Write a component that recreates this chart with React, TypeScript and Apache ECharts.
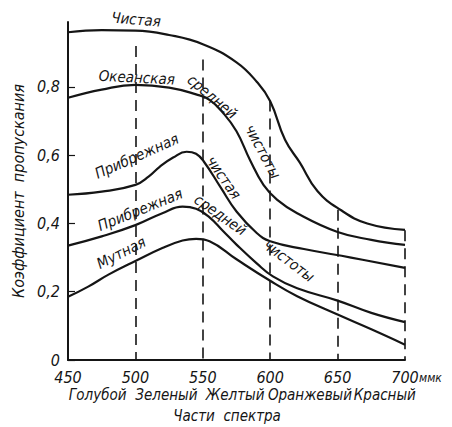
import React, { useEffect, useRef } from "react";
import * as echarts from "echarts";

// wavelength (ммк) vs transmission coefficient
const clean: number[][] = [
  [450, 0.96], [475, 0.966], [500, 0.965], [525, 0.952], [550, 0.925], [575, 0.872],
  [590, 0.815], [600, 0.758], [611, 0.645], [622, 0.578], [635, 0.495], [652, 0.44],
  [672, 0.40], [700, 0.381],
];
const oceanMedium: number[][] = [
  [450, 0.768], [475, 0.792], [500, 0.806], [525, 0.798], [545, 0.778], [555, 0.762],
  [565, 0.724], [575, 0.67], [585, 0.586], [595, 0.513], [605, 0.47], [620, 0.43],
  [650, 0.375], [675, 0.352], [700, 0.337],
];
const coastalClean: number[][] = [
  [450, 0.484], [475, 0.493], [500, 0.513], [510, 0.538], [518, 0.566], [528, 0.593],
  [538, 0.61], [545, 0.604], [551, 0.58], [563, 0.507], [575, 0.435], [590, 0.372],
  [600, 0.348], [625, 0.325], [660, 0.30], [700, 0.27],
];
const coastalMedium: number[][] = [
  [450, 0.335], [475, 0.362], [500, 0.395], [520, 0.43], [535, 0.449], [545, 0.443],
  [555, 0.418], [565, 0.378], [575, 0.338], [590, 0.283], [602, 0.245], [620, 0.21],
  [650, 0.174], [675, 0.138], [700, 0.111],
];
const turbid: number[][] = [
  [450, 0.185], [465, 0.215], [480, 0.25], [500, 0.29], [520, 0.328], [535, 0.35],
  [545, 0.355], [555, 0.348], [575, 0.295], [600, 0.232], [620, 0.187], [650, 0.133],
  [675, 0.09], [700, 0.045],
];

// vertical dashed guides: x and top value
const guideX = [500, 550, 600, 650, 700];
const guideTop = [0.92, 0.88, 0.76, 0.44, 0.38];

// curve annotations: text, x (ммк), y, rotation (deg)
const curveLabels: [string, number, number, number][] = [
  ["Чистая", 500.5, 0.997, -5],
  ["Океанская", 501, 0.827, -3],
  ["средней", 557, 0.771, -40],
  ["чистоты", 594.5, 0.61, -62],
  ["Прибрежная", 501, 0.597, 24],
  ["чистая", 565.5, 0.534, -55],
  ["Прибрежная", 503.5, 0.44, 22],
  ["средней", 563, 0.425, -35],
  ["чистоты", 614, 0.29, -37],
  ["Мутная", 489.5, 0.314, 27],
];

// spectrum parts under the axis: name, centre (ммк)
const spectrumParts: [string, number][] = [
  ["Голубой", 472],
  ["Зеленый", 523],
  ["Желтый", 574],
  ["Оранжевый", 629.5],
  ["Красный", 685],
];

const FONT = "DejaVu Sans Condensed, Liberation Sans Narrow, DejaVu Sans, sans-serif";
const INK = "#151515";

export default function App() {
  const ref = useRef<HTMLDivElement>(null);
  useEffect(() => {
    document.body.style.margin = "0";
    const chart = echarts.init(ref.current!, null, { renderer: "svg" });
    const mk = (data: number[][]) => ({
      type: "line",
      data,
      smooth: 0.45,
      symbol: "none",
      lineStyle: { color: INK, width: 2.2 },
      z: 3,
    });
    chart.setOption({
      animation: false,
      backgroundColor: "#fff",
      grid: { left: 68, right: 47, top: 22, bottom: 67 },
      xAxis: {
        type: "value",
        min: 450,
        max: 700,
        interval: 50,
        axisLine: { show: true, lineStyle: { color: INK, width: 2 } },
        axisTick: { show: false },
        splitLine: { show: false },
        axisLabel: {
          color: INK,
          fontFamily: FONT,
          fontStyle: "italic",
          fontSize: 16,
          margin: 9,
        },
      },
      yAxis: {
        type: "value",
        min: 0,
        max: 0.99,
        interval: 0.2,
        name: "Коэффициент  пропускания",
        nameLocation: "middle",
        nameGap: 38,
        nameRotate: 90,
        nameTextStyle: { color: INK, fontFamily: FONT, fontStyle: "italic", fontSize: 16 },
        axisLine: { show: true, lineStyle: { color: INK, width: 2 } },
        axisTick: { show: true, inside: true, length: 7, lineStyle: { color: INK, width: 1.2 } },
        splitLine: { show: false },
        axisLabel: {
          color: INK,
          fontFamily: FONT,
          fontStyle: "italic",
          fontSize: 16,
          margin: 8,
          showMaxLabel: false,
          formatter: (v: number) => (v === 0 ? "0" : v.toFixed(1).replace(".", ",")),
        },
      },
      series: [
        {
          ...mk(clean),
          markLine: {
            silent: true,
            symbol: ["none", "none"],
            label: { show: false },
            lineStyle: { color: INK, width: 1.6, type: [11, 7] },
            data: guideX.map((x, i) => [
              { coord: [x, guideTop[i]] },
              { coord: [x, 0] },
            ]),
          },
        },
        mk(oceanMedium),
        mk(coastalClean),
        mk(coastalMedium),
        mk(turbid),
      ],
    });

    const px = (x: number, y: number) =>
      chart.convertToPixel({ gridIndex: 0 }, [x, y]) as number[];
    const axisY = px(450, 0)[1];
    const textStyle = (t: string, size: number, align: string) => ({
      text: t,
      fill: INK,
      fontFamily: FONT,
      fontStyle: "italic",
      fontSize: size,
      align,
      verticalAlign: "middle",
    });
    const graphics: any[] = [];
    curveLabels.forEach(([t, x, y, r]) => {
      const p = px(x, y);
      graphics.push({
        type: "text",
        x: p[0],
        y: p[1],
        rotation: (r * Math.PI) / 180,
        style: textStyle(t, 15, "center"),
      });
    });
    spectrumParts.forEach(([t, x]) => {
      const p = px(x, 0);
      graphics.push({
        type: "text",
        x: p[0],
        y: axisY + 35,
        style: textStyle(t, 15, "center"),
      });
    });
    const pc = px(568, 0);
    graphics.push({
      type: "text",
      x: pc[0],
      y: axisY + 56,
      style: textStyle("Части  спектра", 15, "center"),
    });
    const pe = px(700, 0);
    graphics.push({
      type: "text",
      x: pe[0] + 14,
      y: axisY + 18,
      style: textStyle("ммк", 12, "left"),
    });
    chart.setOption({ graphic: graphics });

    return () => chart.dispose();
  }, []);
  return <div ref={ref} style={{ width: 452, height: 427 }} />;
}
